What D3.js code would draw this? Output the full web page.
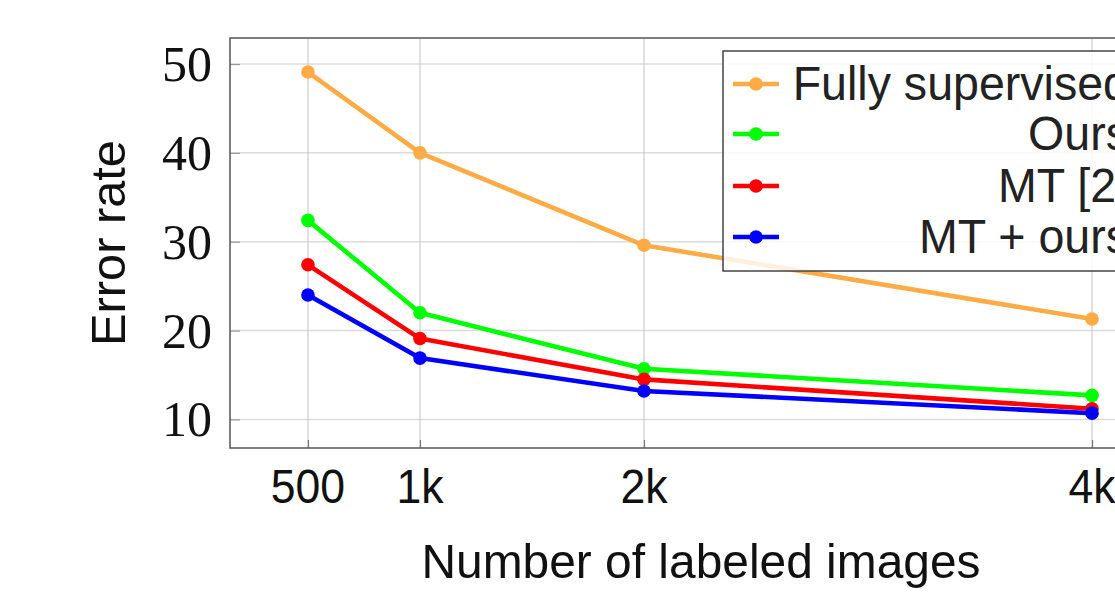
<!DOCTYPE html>
<html>
<head>
<meta charset="utf-8">
<script src="https://cdn.jsdelivr.net/npm/d3@7"></script>
<style>
  html, body { margin: 0; padding: 0; background: #fff; }
  svg { display: block; }
</style>
</head>
<body>
<svg id="chart" width="1115" height="593"></svg>
<script>
const sizes = [500, 1000, 2000, 4000];
const xTickLabels = ["500", "1k", "2k", "4k"];
const yTicks = [10, 20, 30, 40, 50];
const fullySupervised = [49.1, 40.0, 29.6, 21.3];
const ours = [32.4, 22.0, 15.7, 12.7];
const mt = [27.4, 19.1, 14.5, 11.2];
const mtOurs = [24.0, 16.9, 13.2, 10.7];
const seriesNames = ["Fully supervised", "Ours", "MT [2]", "MT + ours"];
const seriesColors = ["#fdab45", "#00ff00", "#ff0000", "#0000ff"];
const seriesValues = [fullySupervised, ours, mt, mtOurs];

const svg = d3.select("#chart");
const L = 230, R = 1172, T = 38, B = 448;

const x = d3.scaleLinear().domain([152, 4357]).range([L, R]);
const y = d3.scaleLinear().domain([6.78, 52.93]).range([B, T]);

const sansFont = "'Liberation Sans', Arial, sans-serif";
const serifFont = "'Liberation Serif', 'Times New Roman', serif";

function condense(sel, f) {
  sel.each(function() {
    const w = this.getComputedTextLength();
    d3.select(this).attr("textLength", w * f).attr("lengthAdjust", "spacingAndGlyphs");
  });
}

// horizontal grid
svg.append("g").selectAll("line").data(yTicks).join("line")
  .attr("x1", L).attr("x2", R)
  .attr("y1", d => y(d)).attr("y2", d => y(d))
  .attr("stroke", "#dcdcdc").attr("stroke-width", 1.5);

// vertical grid
svg.append("g").selectAll("line").data(sizes).join("line")
  .attr("x1", d => x(d)).attr("x2", d => x(d))
  .attr("y1", T).attr("y2", B)
  .attr("stroke", "#c4c4c4").attr("stroke-width", 1);

// y axis ticks (inward)
const yAxis = d3.axisRight(y).tickValues(yTicks).tickSize(10).tickFormat("");
svg.append("g").attr("transform", `translate(${L},0)`).call(yAxis)
  .call(g => g.select(".domain").remove())
  .call(g => g.selectAll(".tick line").attr("stroke", "#999").attr("stroke-width", 1.2));

// x axis ticks (inward)
const xAxis = d3.axisTop(x).tickValues(sizes).tickSize(8).tickFormat("");
svg.append("g").attr("transform", `translate(0,${B})`).call(xAxis)
  .call(g => g.select(".domain").remove())
  .call(g => g.selectAll(".tick line").attr("stroke", "#777").attr("stroke-width", 1.2));

// frame
svg.append("rect").attr("x", L).attr("y", T).attr("width", R - L).attr("height", B - T)
  .attr("fill", "none").attr("stroke", "#555").attr("stroke-width", 1.5);

// y tick labels
svg.append("g").selectAll("text").data(yTicks).join("text")
  .attr("x", 212).attr("y", d => y(d) + 17)
  .attr("text-anchor", "end")
  .attr("font-family", serifFont).attr("font-size", 50)
  .attr("fill", "#111")
  .text(d => d);

// x tick labels
const xl = svg.append("g").selectAll("text").data(sizes).join("text")
  .attr("x", d => x(d)).attr("y", 503)
  .attr("text-anchor", "middle")
  .attr("font-family", sansFont).attr("font-size", 49)
  .attr("fill", "#111")
  .text((d, i) => xTickLabels[i]);
condense(xl, 0.91);

// axis titles
svg.append("text")
  .attr("x", 701).attr("y", 578)
  .attr("text-anchor", "middle")
  .attr("font-family", sansFont).attr("font-size", 49)
  .attr("fill", "#111")
  .attr("textLength", 559).attr("lengthAdjust", "spacingAndGlyphs")
  .text("Number of labeled images");

svg.append("text")
  .attr("transform", "translate(125,243) rotate(-90)")
  .attr("text-anchor", "middle")
  .attr("font-family", sansFont).attr("font-size", 49)
  .attr("fill", "#111")
  .attr("textLength", 206).attr("lengthAdjust", "spacingAndGlyphs")
  .text("Error rate");

// lines + markers
const line = d3.line().x((d, i) => x(sizes[i])).y(d => y(d));
seriesValues.forEach((vals, k) => {
  const g = svg.append("g");
  g.append("path").datum(vals).attr("d", line)
    .attr("fill", "none").attr("stroke", seriesColors[k])
    .attr("stroke-width", 4.6).attr("stroke-linejoin", "round");
  g.selectAll("circle").data(vals).join("circle")
    .attr("cx", (d, i) => x(sizes[i])).attr("cy", d => y(d))
    .attr("r", 6.8).attr("fill", seriesColors[k]);
});

// legend
const lg = svg.append("g");
lg.append("rect").attr("x", 723).attr("y", 51).attr("width", 500).attr("height", 220)
  .attr("fill", "#fff").attr("fill-opacity", 0.82)
  .attr("stroke", "#444").attr("stroke-width", 1.5);
const rowY = [84, 134, 186, 237];
seriesNames.forEach((name, k) => {
  lg.append("line").attr("x1", 733).attr("x2", 779)
    .attr("y1", rowY[k]).attr("y2", rowY[k])
    .attr("stroke", seriesColors[k]).attr("stroke-width", 4.6);
  lg.append("circle").attr("cx", 756).attr("cy", rowY[k]).attr("r", 6.8)
    .attr("fill", seriesColors[k]);
  const t = lg.append("text")
    .attr("x", 1129).attr("y", rowY[k] + 16)
    .attr("text-anchor", "end")
    .attr("font-family", sansFont).attr("font-size", 49)
    .attr("fill", "#222")
    .text(name);
  condense(t, 0.95);
});
</script>
</body>
</html>
